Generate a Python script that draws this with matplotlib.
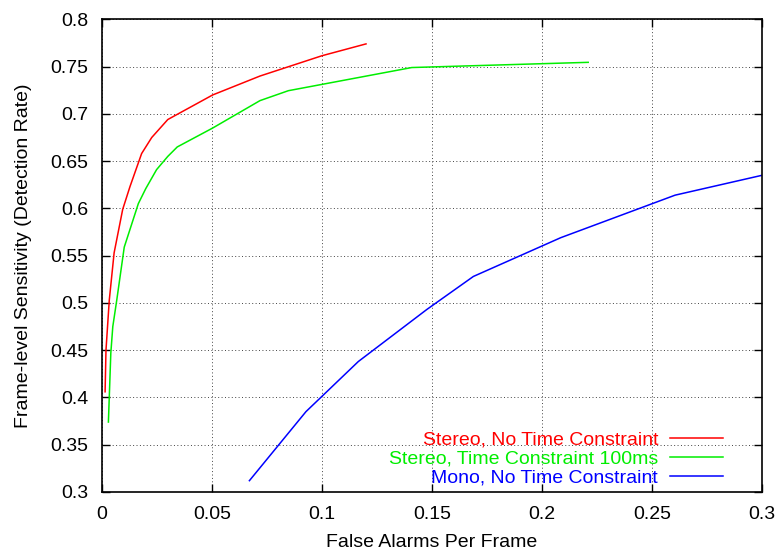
import matplotlib.pyplot as plt

plt.rcParams['font.family'] = ['Liberation Sans', 'DejaVu Sans']

# red: stereo, no time constraint
stereo_x = [0.0014, 0.0018, 0.0033, 0.0055, 0.0094, 0.0127, 0.018, 0.0226, 0.0299,
            0.0503, 0.0718, 0.1, 0.12]
stereo_y = [0.406, 0.45, 0.503, 0.553, 0.599, 0.623, 0.658, 0.675, 0.694,
            0.720, 0.740, 0.7615, 0.774]

# green: stereo, 100ms constraint
stereo100_x = [0.0029, 0.004, 0.0049, 0.0067, 0.0101, 0.0165, 0.0199, 0.0248, 0.0299,
               0.0342, 0.0503, 0.0718, 0.0847, 0.1408, 0.221]
stereo100_y = [0.374, 0.447, 0.475, 0.503, 0.559, 0.605, 0.621, 0.641, 0.655,
               0.665, 0.685, 0.714, 0.7245, 0.749, 0.7545]

# blue: mono, no time constraint
mono_x = [0.067, 0.0927, 0.1165, 0.1476, 0.1688, 0.2085, 0.2605, 0.3]
mono_y = [0.312, 0.385, 0.438, 0.493, 0.528, 0.569, 0.614, 0.635]

fig = plt.figure(figsize=(7.77, 5.52), dpi=100)
ax = fig.add_axes([0.1313, 0.1087, 0.8494, 0.8563])

ax.plot(stereo_x, stereo_y, color='#ff0000', lw=1.1, label='Stereo, No Time Constraint')
ax.plot(stereo100_x, stereo100_y, color='#00ee00', lw=1.1, label='Stereo, Time Constraint 100ms')
ax.plot(mono_x, mono_y, color='#0000ff', lw=1.1, label='Mono, No Time Constraint')

ax.set_xlim(0, 0.3)
ax.set_ylim(0.3, 0.8)
ax.set_xticks([0, 0.05, 0.1, 0.15, 0.2, 0.25, 0.3])
ax.set_xticklabels(['0', '0.05', '0.1', '0.15', '0.2', '0.25', '0.3'])
ax.set_yticks([0.3, 0.35, 0.4, 0.45, 0.5, 0.55, 0.6, 0.65, 0.7, 0.75, 0.8])
ax.set_yticklabels(['0.3', '0.35', '0.4', '0.45', '0.5', '0.55', '0.6', '0.65', '0.7', '0.75', '0.8'])
ax.tick_params(direction='in', top=True, right=True, length=6, width=1, labelsize=14, pad=10)
ax.grid(True, color='#444444', linestyle=(0, (1, 2.5)), linewidth=0.7)
for s in ax.spines.values():
    s.set_linewidth(1.2)

ax.set_xlabel('False Alarms Per Frame', fontsize=14, labelpad=8)
ax.set_ylabel('Frame-level Sensitivity (Detection Rate)', fontsize=14, labelpad=13)

ax.legend(loc='lower right', bbox_to_anchor=(0.9405, 0.011), frameon=False, markerfirst=False,
          labelcolor='linecolor', fontsize=14, handlelength=2.7, handletextpad=0.62,
          borderpad=0, labelspacing=0.08, borderaxespad=0)

fig.savefig('out.png', dpi=100)
